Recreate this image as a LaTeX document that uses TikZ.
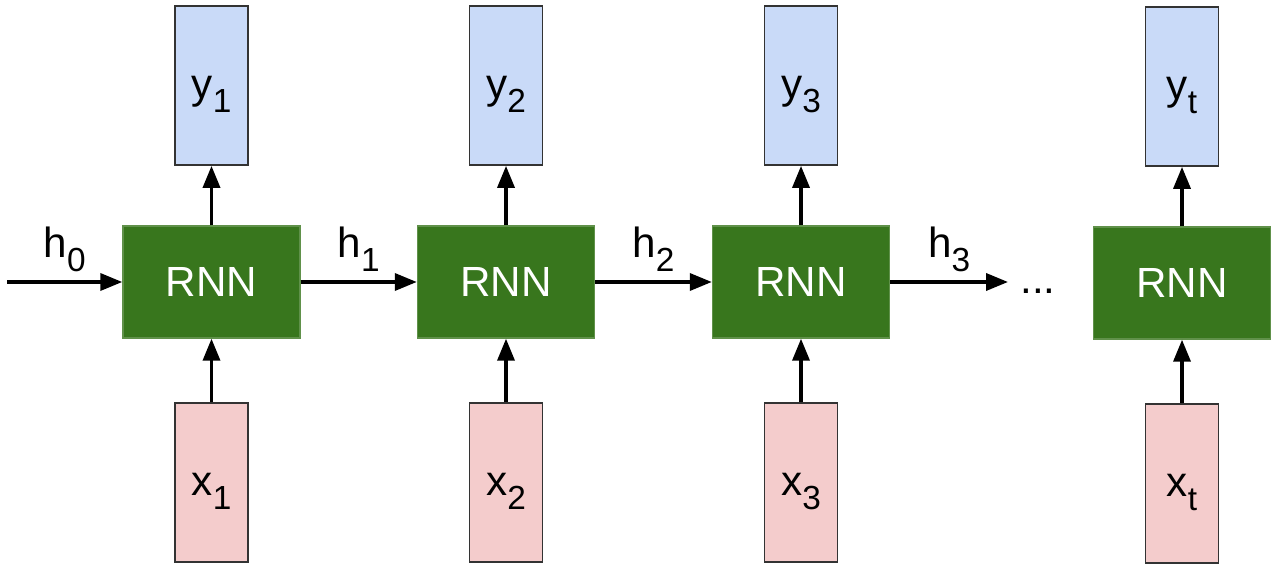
\documentclass[tikz,border=0pt]{standalone}
\usepackage{fontspec}
\setmainfont{Liberation Sans}
\usetikzlibrary{arrows.meta}

\newcommand{\sublbl}[1]{\raisebox{-4pt}{\fontsize{9.5}{10}\selectfont #1}}

\begin{document}
\begin{tikzpicture}[font=\fontsize{12}{14}\selectfont]
  \definecolor{cellgreen}{RGB}{56,118,29}
  \definecolor{outblue}{RGB}{201,218,248}
  \definecolor{inpink}{RGB}{244,204,204}
  \definecolor{boxline}{RGB}{51,51,51}

  \tikzset{
    rnncell/.style={rectangle,fill=cellgreen,draw=cellgreen!80!white,line width=0.4pt,minimum width=1.77cm,minimum height=1.12cm,inner sep=0pt,text=white},
    outbox/.style={rectangle,fill=outblue,draw=boxline,line width=0.5pt,minimum width=0.73cm,minimum height=1.59cm,inner sep=0pt,text height=11.5pt,text depth=4pt},
    inbox/.style={rectangle,fill=inpink,draw=boxline,line width=0.5pt,minimum width=0.73cm,minimum height=1.59cm,inner sep=0pt,text height=11.5pt,text depth=4pt},
    flowarrow/.style={-{Triangle[length=0.22cm,width=0.17cm]},line width=1pt},
    hlabel/.style={above,inner sep=2.5pt}
  }

  \useasboundingbox (0,0) rectangle (12.77,5.69);

  % ---------------- Step 1 ----------------
  \node[rnncell] (rnn1) at (2.115,2.87) {RNN};
  \node[outbox] (y1) at (2.115,4.835) {y\sublbl{1}};
  \node[inbox] (x1) at (2.115,0.865) {x\sublbl{1}};

  % ---------------- Step 2 ----------------
  \node[rnncell] (rnn2) at (5.06,2.87) {RNN};
  \node[outbox] (y2) at (5.06,4.835) {y\sublbl{2}};
  \node[inbox] (x2) at (5.06,0.865) {x\sublbl{2}};

  % ---------------- Step 3 ----------------
  \node[rnncell] (rnn3) at (8.01,2.87) {RNN};
  \node[outbox] (y3) at (8.01,4.835) {y\sublbl{3}};
  \node[inbox] (x3) at (8.01,0.865) {x\sublbl{3}};

  % ---------------- Step t ----------------
  \node (dots) at (10.38,2.78) {...};
  \node[rnncell] (rnnt) at (11.82,2.86) {RNN};
  \node[outbox] (yt) at (11.82,4.825) {y\sublbl{t}};
  \node[inbox] (xt) at (11.82,0.855) {x\sublbl{t}};

  % Inputs and outputs
  \foreach \s in {1,2,3,t}{
    \draw[flowarrow] (x\s) -- (rnn\s);
    \draw[flowarrow] (rnn\s) -- (y\s);
  }

  % Hidden state chain
  \coordinate (hstart) at (0.07,2.87);
  \draw[flowarrow] (hstart) -- (rnn1) node[midway,hlabel] {h\sublbl{0}};
  \draw[flowarrow] (rnn1) -- (rnn2) node[midway,hlabel] {h\sublbl{1}};
  \draw[flowarrow] (rnn2) -- (rnn3) node[midway,hlabel] {h\sublbl{2}};
  \draw[flowarrow] (rnn3.east) -- (rnn3.east -| dots.west) node[midway,hlabel] {h\sublbl{3}};
\end{tikzpicture}
\end{document}
